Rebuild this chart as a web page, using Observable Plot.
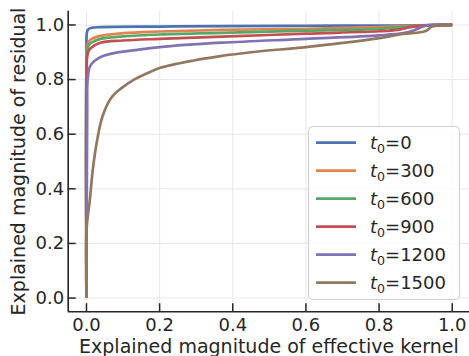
<!DOCTYPE html>
<html><head><meta charset="utf-8">
<script src="https://cdn.jsdelivr.net/npm/d3@7"></script>
<script src="https://cdn.jsdelivr.net/npm/@observablehq/plot@0.6"></script>
<style>body{margin:0;background:#fff} svg{display:block}</style>
</head><body><div id="chart"></div>
<script>
// ---- data ----
const seriesLabels = ["0", "300", "600", "900", "1200", "1500"];
const seriesColors = ["#4c72b0", "#dd8452", "#55a868", "#c44e52", "#8172b3", "#937860"];

const x_t0_0 = [0, 0, 0.001, 0.004, 0.012, 0.04, 0.2, 0.37, 0.6, 0.85, 1.0];
const y_t0_0 = [0, 0.95, 0.972, 0.983, 0.989, 0.992, 0.994, 0.996, 0.997, 0.998, 1.0];

const x_t0_300 = [0, 0, 0.002, 0.006, 0.012, 0.038, 0.1, 0.2, 0.37, 0.6, 0.8, 0.9, 1.0];
const y_t0_300 = [0, 0.86, 0.92, 0.938, 0.947, 0.96, 0.97, 0.976, 0.982, 0.986, 0.992, 0.997, 1.0];

const x_t0_600 = [0, 0, 0.002, 0.006, 0.012, 0.038, 0.1, 0.2, 0.37, 0.6, 0.8, 0.9, 1.0];
const y_t0_600 = [0, 0.85, 0.905, 0.925, 0.934, 0.949, 0.958, 0.965, 0.971, 0.979, 0.986, 0.995, 1.0];

const x_t0_900 = [0, 0, 0.002, 0.006, 0.012, 0.038, 0.1, 0.2, 0.37, 0.6, 0.8, 0.85, 0.89, 0.95, 1.0];
const y_t0_900 = [0, 0.83, 0.885, 0.905, 0.916, 0.935, 0.943, 0.949, 0.957, 0.968, 0.977, 0.982, 0.993, 1.0, 1.0];

const x_t0_1200 = [0, 0.001, 0.002, 0.003, 0.011, 0.038, 0.075, 0.128, 0.2, 0.37, 0.6, 0.8, 0.866, 0.894, 0.93, 1.0];
const y_t0_1200 = [0, 0.4, 0.7, 0.797, 0.852, 0.882, 0.897, 0.907, 0.919, 0.935, 0.949, 0.962, 0.97, 0.98, 0.998, 1.0];

const x_t0_1500 = [0, 0, 0.009, 0.018, 0.029, 0.043, 0.066, 0.093, 0.129, 0.166, 0.202, 0.293, 0.366, 0.45, 0.6, 0.72, 0.8, 0.866, 0.926, 0.945, 0.97, 1.0];
const y_t0_1500 = [0, 0.25, 0.357, 0.479, 0.577, 0.662, 0.73, 0.766, 0.799, 0.823, 0.843, 0.87, 0.886, 0.9, 0.919, 0.937, 0.952, 0.967, 0.977, 0.994, 0.998, 1.0];

const xTicks = [0, 0.2, 0.4, 0.6, 0.8, 1.0];
const yTicks = [0, 0.2, 0.4, 0.6, 0.8, 1.0];
const xDomain = [-0.05, 1.05];
const yDomain = [-0.05, 1.05];
const xLabel = "Explained magnitude of effective kernel";
const yLabel = "Explained magnitude of residual";

// ---- build table ----
const seriesX = [x_t0_0, x_t0_300, x_t0_600, x_t0_900, x_t0_1200, x_t0_1500];
const seriesY = [y_t0_0, y_t0_300, y_t0_600, y_t0_900, y_t0_1200, y_t0_1500];
const rows = [];
seriesLabels.forEach((s, i) => {
  seriesX[i].forEach((xv, j) => rows.push({s, x: xv, y: seriesY[i][j]}));
});

const ink = "#262626";
const gridColor = "#e8e8e8";

const chart = Plot.plot({
  width: 469, height: 356,
  marginLeft: 67.7, marginRight: 0, marginTop: 10.8, marginBottom: 44.8,
  style: {fontFamily: "DejaVu Sans", fontSize: "18px", color: ink, background: "#fff", overflow: "visible"},
  x: {domain: xDomain, range: [67.7, 470]},
  y: {domain: yDomain, range: [311.2, 10.8]},
  color: {domain: seriesLabels, range: seriesColors},
  marks: [
    Plot.gridX({ticks: xTicks, stroke: gridColor, strokeOpacity: 1, strokeWidth: 1}),
    Plot.gridY({ticks: yTicks, stroke: gridColor, strokeOpacity: 1, strokeWidth: 1}),
    Plot.line(rows, {x: "x", y: "y", z: "s", stroke: "s", strokeWidth: 2.7, curve: "catmull-rom", strokeLinejoin: "round", strokeLinecap: "butt"}),
    Plot.ruleX([xDomain[0]], {stroke: ink, strokeWidth: 1.6}),
    Plot.ruleY([yDomain[0]], {stroke: ink, strokeWidth: 1.6}),
    Plot.axisX({ticks: xTicks, tickSize: -8, tickFormat: () => "", label: null, stroke: ink, strokeWidth: 1.5}),
    Plot.axisY({ticks: yTicks, tickSize: -8, tickFormat: () => "", label: null, stroke: ink, strokeWidth: 1.5}),
    Plot.axisX({ticks: xTicks, tickSize: 0, tickPadding: 7, tickFormat: d3.format(".1f"), label: null, fontSize: 18, fill: ink}),
    Plot.axisY({ticks: yTicks, tickSize: 0, tickPadding: 4, tickFormat: d3.format(".1f"), label: null, fontSize: 18, fill: ink}),
    Plot.text([xLabel], {text: d => d, frameAnchor: "bottom", dy: 35, lineAnchor: "middle", textAnchor: "middle", fontSize: 19, fill: ink}),
    Plot.text([yLabel], {text: d => d, frameAnchor: "left", dx: -49, rotate: -90, lineAnchor: "middle", textAnchor: "middle", fontSize: 19, fill: ink})
  ]
});
document.getElementById("chart").appendChild(chart);

// ---- legend (inside the axes, lower right) ----
const color = chart.scale("color");
const svg = d3.select(chart);
const lg = svg.append("g").attr("font-family", "DejaVu Sans").attr("font-size", 18)
  .attr("fill", ink).attr("text-anchor", "start");
lg.append("rect")
  .attr("x", 308.5).attr("y", 126.5).attr("width", 151).attr("height", 173).attr("rx", 4)
  .attr("fill", "#fff").attr("fill-opacity", 0.8).attr("stroke", "#d0d0d0").attr("stroke-width", 1);
seriesLabels.forEach((s, i) => {
  const cy = 142.7 + 28 * i;
  lg.append("line").attr("x1", 316).attr("x2", 356).attr("y1", cy).attr("y2", cy)
    .attr("stroke", color.apply(s)).attr("stroke-width", 2.7);
  const t = lg.append("text").attr("x", 370).attr("y", cy + 6.6).attr("text-anchor", "start");
  t.append("tspan").attr("font-style", "italic").text("t");
  t.append("tspan").attr("font-size", 12.6).attr("dy", 3.5).text("0");
  t.append("tspan").attr("dy", -3.5).text("=" + s);
});
</script>
</body></html>
